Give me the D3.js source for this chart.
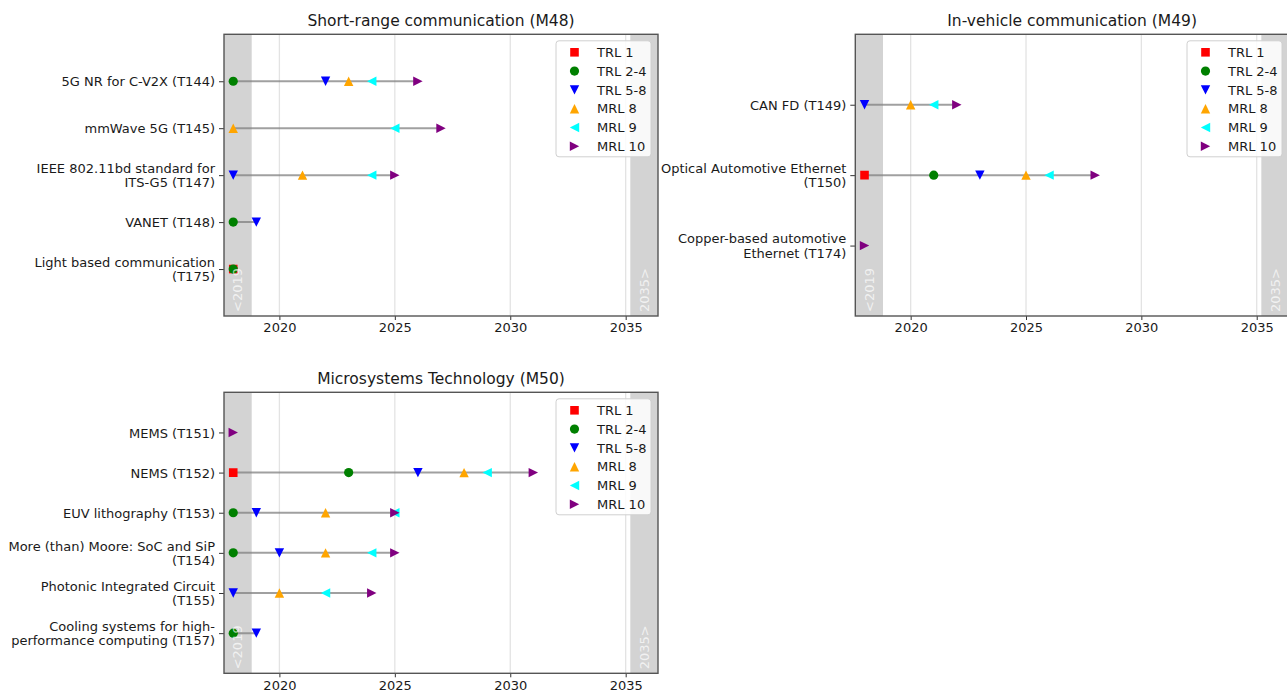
<!DOCTYPE html>
<html>
<head>
<meta charset="utf-8">
<script src="https://cdn.jsdelivr.net/npm/d3@7"></script>
<style>
  body { margin: 0; background: #fff; }
  svg { display: block; }
  text { font-family: "DejaVu Sans", sans-serif; }
</style>
</head>
<body>
<svg id="chart" width="1287" height="696"></svg>
<script>
// Readiness levels shown as markers (one column per level in the year tables)
const levels = ["TRL 1", "TRL 2-4", "TRL 5-8", "MRL 8", "MRL 9", "MRL 10"];
const xTicks = [2020, 2025, 2030, 2035];
const xDomain = [2017.6, 2036.4];
const pastEdge = 2018.8;
const futureEdge = 2035.2;
const pastLabel = "<2019";
const futureLabel = "2035>";

// Short-range communication
const m48Title = "Short-range communication (M48)";
const m48Techs = [
  "5G NR for C-V2X (T144)",
  "mmWave 5G (T145)",
  "IEEE 802.11bd standard for\nITS-G5 (T147)",
  "VANET (T148)",
  "Light based communication\n(T175)"
];
const m48Years = [
  [null, 2018, 2022, 2023, 2024, 2026],
  [null, null, null, 2018, 2025, 2027],
  [null, null, 2018, 2021, 2024, 2025],
  [null, 2018, 2019, null, null, null],
  [2018, 2018, null, null, null, null]
];

// In-vehicle communication
const m49Title = "In-vehicle communication (M49)";
const m49Techs = [
  "CAN FD (T149)",
  "Optical Automotive Ethernet\n(T150)",
  "Copper-based automotive\nEthernet (T174)"
];
const m49Years = [
  [null, null, 2018, 2020, 2021, 2022],
  [2018, 2021, 2023, 2025, 2026, 2028],
  [null, null, null, null, null, 2018]
];

// Microsystems technology
const m50Title = "Microsystems Technology (M50)";
const m50Techs = [
  "MEMS (T151)",
  "NEMS (T152)",
  "EUV lithography (T153)",
  "More (than) Moore: SoC and SiP\n(T154)",
  "Photonic Integrated Circuit\n(T155)",
  "Cooling systems for high-\nperformance computing (T157)"
];
const m50Years = [
  [null, null, null, null, null, 2018],
  [2018, 2023, 2026, 2028, 2029, 2031],
  [null, 2018, 2019, 2022, 2025, 2025],
  [null, 2018, 2020, 2022, 2024, 2025],
  [null, null, 2018, 2020, 2022, 2024],
  [null, 2018, 2019, null, null, null]
];

// ---- styling ----
const levelColors = ["#ff0000", "#008000", "#0000ff", "#ffa500", "#00ffff", "#800080"];
const levelShapes = ["square", "circle", "down", "up", "left", "right"];
const textColor = "#1a1a1a";
const labelSize = 13;

function shapePath(shape) {
  const h = 4.7;
  switch (shape) {
    case "square": { const s = 4.3; return `M${-s},${-s}H${s}V${s}H${-s}Z`; }
    case "circle": { const r = 4.6; return `M${r},0A${r},${r} 0 1,1 ${-r},0A${r},${r} 0 1,1 ${r},0Z`; }
    case "down": return `M${-h},${-h}L${h},${-h}L0,${h}Z`;
    case "up": return `M${-h},${h}L${h},${h}L0,${-h}Z`;
    case "left": return `M${h},${-h}L${h},${h}L${-h},0Z`;
    case "right": return `M${-h},${-h}L${-h},${h}L${h},0Z`;
  }
}

const svg = d3.select("#chart");

function drawPanel(cfg) {
  const { title, techs, years, left, right, top, bottom } = cfg;
  const g = svg.append("g");

  const x = d3.scaleLinear().domain(xDomain).range([left, right]);
  const y = d3.scaleLinear().domain([-1, techs.length]).range([top, bottom]);

  // clip for plot area
  const clipId = "clip" + Math.round(left) + "_" + Math.round(top);
  svg.append("clipPath").attr("id", clipId)
    .append("rect").attr("x", left).attr("y", top)
    .attr("width", right - left).attr("height", bottom - top);

  const plot = g.append("g").attr("clip-path", `url(#${clipId})`);

  // shaded periods before / after the roadmap window
  plot.append("rect")
    .attr("x", x(xDomain[0])).attr("y", top)
    .attr("width", x(pastEdge) - x(xDomain[0])).attr("height", bottom - top)
    .attr("fill", "#d3d3d3");
  plot.append("rect")
    .attr("x", x(futureEdge)).attr("y", top)
    .attr("width", x(xDomain[1]) - x(futureEdge)).attr("height", bottom - top)
    .attr("fill", "#d3d3d3");

  // vertical grid
  plot.selectAll("line.grid").data(xTicks).join("line")
    .attr("class", "grid")
    .attr("x1", d => x(d)).attr("x2", d => x(d))
    .attr("y1", top).attr("y2", bottom)
    .attr("stroke", "#e3e3e3").attr("stroke-width", 1.3);

  // connector lines from earliest to latest milestone
  techs.forEach((t, i) => {
    const vals = years[i].filter(v => v != null);
    const [lo, hi] = d3.extent(vals);
    plot.append("line")
      .attr("x1", x(lo)).attr("x2", x(hi))
      .attr("y1", y(i)).attr("y2", y(i))
      .attr("stroke", "#808080").attr("stroke-opacity", 0.75)
      .attr("stroke-width", 2);
  });

  // milestone markers, one layer per readiness level
  levels.forEach((lv, j) => {
    const pts = techs.map((t, i) => ({ i, v: years[i][j] })).filter(d => d.v != null);
    plot.selectAll(null).data(pts).join("path")
      .attr("transform", d => `translate(${x(d.v)},${y(d.i)})`)
      .attr("d", shapePath(levelShapes[j]))
      .attr("fill", levelColors[j]);
  });

  // labels inside the shaded periods
  const bandText = [
    { label: pastLabel, xv: (xDomain[0] + pastEdge) / 2 },
    { label: futureLabel, xv: (futureEdge + xDomain[1]) / 2 }
  ];
  plot.selectAll(null).data(bandText).join("text")
    .attr("transform", d => `translate(${x(d.xv) + 4.6},${bottom - 4}) rotate(-90)`)
    .attr("font-size", 13)
    .attr("fill", "#ffffff").attr("fill-opacity", 0.7)
    .text(d => d.label);

  // x axis
  const xAxis = d3.axisBottom(x).tickValues(xTicks).tickFormat(d3.format("d"))
    .tickSize(4).tickPadding(3);
  const gx = g.append("g").attr("transform", `translate(0,${bottom})`).call(xAxis);
  gx.select(".domain").remove();
  gx.selectAll(".tick line").attr("stroke", "#333").attr("stroke-width", 1);
  gx.selectAll(".tick text").attr("font-size", labelSize).attr("fill", textColor)
    .attr("font-family", "DejaVu Sans");

  // y axis with wrapped technology labels
  const yAxis = d3.axisLeft(y).tickValues(d3.range(techs.length))
    .tickFormat(i => techs[i]).tickSize(5).tickPadding(4);
  const gy = g.append("g").attr("transform", `translate(${left},0)`).call(yAxis);
  gy.select(".domain").remove();
  gy.selectAll(".tick line").attr("stroke", "#333").attr("stroke-width", 1);
  gy.selectAll(".tick text").each(function(i) {
    const lines = techs[i].split("\n");
    const el = d3.select(this).text(null)
      .attr("font-size", labelSize).attr("fill", textColor)
      .attr("font-family", "DejaVu Sans").attr("dy", null);
    const lh = 14.4;
    const start = -(lines.length - 1) * lh / 2;
    lines.forEach((ln, k) => {
      el.append("tspan").attr("x", -9).attr("y", 0)
        .attr("dy", (start + k * lh + 4.6) + "px").text(ln);
    });
  });

  // frame
  g.append("rect")
    .attr("x", left).attr("y", top)
    .attr("width", right - left).attr("height", bottom - top)
    .attr("fill", "none").attr("stroke", "#555").attr("stroke-width", 1.4);

  // title
  g.append("text")
    .attr("x", (left + right) / 2).attr("y", top - 8)
    .attr("text-anchor", "middle").attr("font-size", 15.5)
    .attr("fill", textColor).text(title);

  // legend
  const lw = 95, rowH = 18.8;
  const lx = right - 7 - lw, ly = top + 6.5;
  const lg = g.append("g");
  lg.append("rect").attr("x", lx).attr("y", ly)
    .attr("width", lw).attr("height", 116).attr("rx", 3)
    .attr("fill", "#fff").attr("fill-opacity", 0.85)
    .attr("stroke", "#d0d0d0").attr("stroke-width", 1);
  levels.forEach((lv, j) => {
    const cy = ly + 11.5 + j * rowH;
    lg.append("path").attr("transform", `translate(${lx + 18.5},${cy})`)
      .attr("d", shapePath(levelShapes[j])).attr("fill", levelColors[j]);
    lg.append("text").attr("x", lx + 41).attr("y", cy + 4.6)
      .attr("font-size", labelSize).attr("fill", textColor).text(lv);
  });
}

drawPanel({ title: m48Title, techs: m48Techs, years: m48Years,
  left: 224, right: 658, top: 34.3, bottom: 316 });
drawPanel({ title: m49Title, techs: m49Techs, years: m49Years,
  left: 855.3, right: 1289, top: 34.3, bottom: 316 });
drawPanel({ title: m50Title, techs: m50Techs, years: m50Years,
  left: 224, right: 658, top: 392.3, bottom: 673.3 });
</script>
</body>
</html>
